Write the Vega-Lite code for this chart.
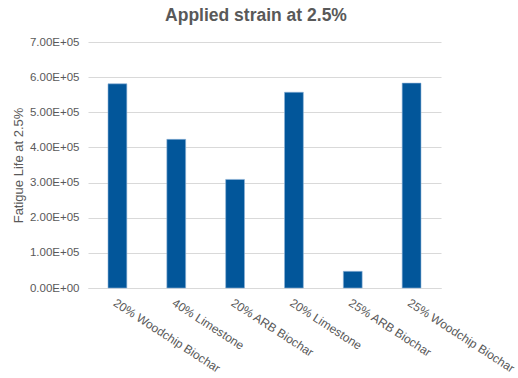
{
  "$schema": "https://vega.github.io/schema/vega-lite/v6.json",
  "autosize": "none",
  "width": 353,
  "height": 246,
  "padding": {"left": 88, "top": 42, "right": 77, "bottom": 90},
  "background": "white",
  "title": {
    "text": "Applied strain at 2.5%",
    "font": "Liberation Sans",
    "fontSize": 17.5,
    "fontWeight": "bold",
    "color": "#595959",
    "anchor": "middle",
    "frame": "group",
    "dx": -8.5,
    "offset": 12
  },
  "data": {
    "values": [
      {"material": "20% Woodchip Biochar", "life": 581000},
      {"material": "40% Limestone", "life": 423000},
      {"material": "20% ARB Biochar", "life": 309000},
      {"material": "20% Limestone", "life": 557000},
      {"material": "25% ARB Biochar", "life": 47500},
      {"material": "25% Woodchip Biochar", "life": 583000}
    ]
  },
  "mark": {"type": "bar", "color": "#02569A", "stroke": "#8fb4d9", "strokeWidth": 0.6},
  "encoding": {
    "x": {
      "field": "material",
      "type": "nominal",
      "sort": null,
      "scale": {"paddingInner": 0.68, "paddingOuter": 0.34},
      "axis": {
        "title": null,
        "labelAngle": 33,
        "labelAlign": "left",
        "labelBaseline": "top",
        "labelPadding": 9,
        "labelFont": "Liberation Sans",
        "labelFontSize": 12,
        "labelFontWeight": "normal",
        "labelColor": "#595959",
        "ticks": false,
        "domain": true,
        "domainColor": "#d9d9d9",
        "domainWidth": 1,
        "grid": false
      }
    },
    "y": {
      "field": "life",
      "type": "quantitative",
      "scale": {"domain": [0, 700000], "nice": false},
      "axis": {
        "title": "Fatigue Life at 2.5%",
        "titleFont": "Liberation Sans",
        "titleFontSize": 13,
        "titleFontWeight": "normal",
        "titleColor": "#595959",
        "titlePadding": 4,
        "values": [0, 100000, 200000, 300000, 400000, 500000, 600000, 700000],
        "labelExpr": "replace(upper(format(datum.value, '.2e')), 'E+', 'E+0')",
        "labelFont": "Liberation Sans",
        "labelFontSize": 11.5,
        "labelFontWeight": "normal",
        "labelColor": "#595959",
        "labelPadding": 9,
        "ticks": false,
        "domain": false,
        "grid": true,
        "gridColor": "#d9d9d9",
        "gridWidth": 1
      }
    }
  },
  "config": {"view": {"stroke": null}}
}
